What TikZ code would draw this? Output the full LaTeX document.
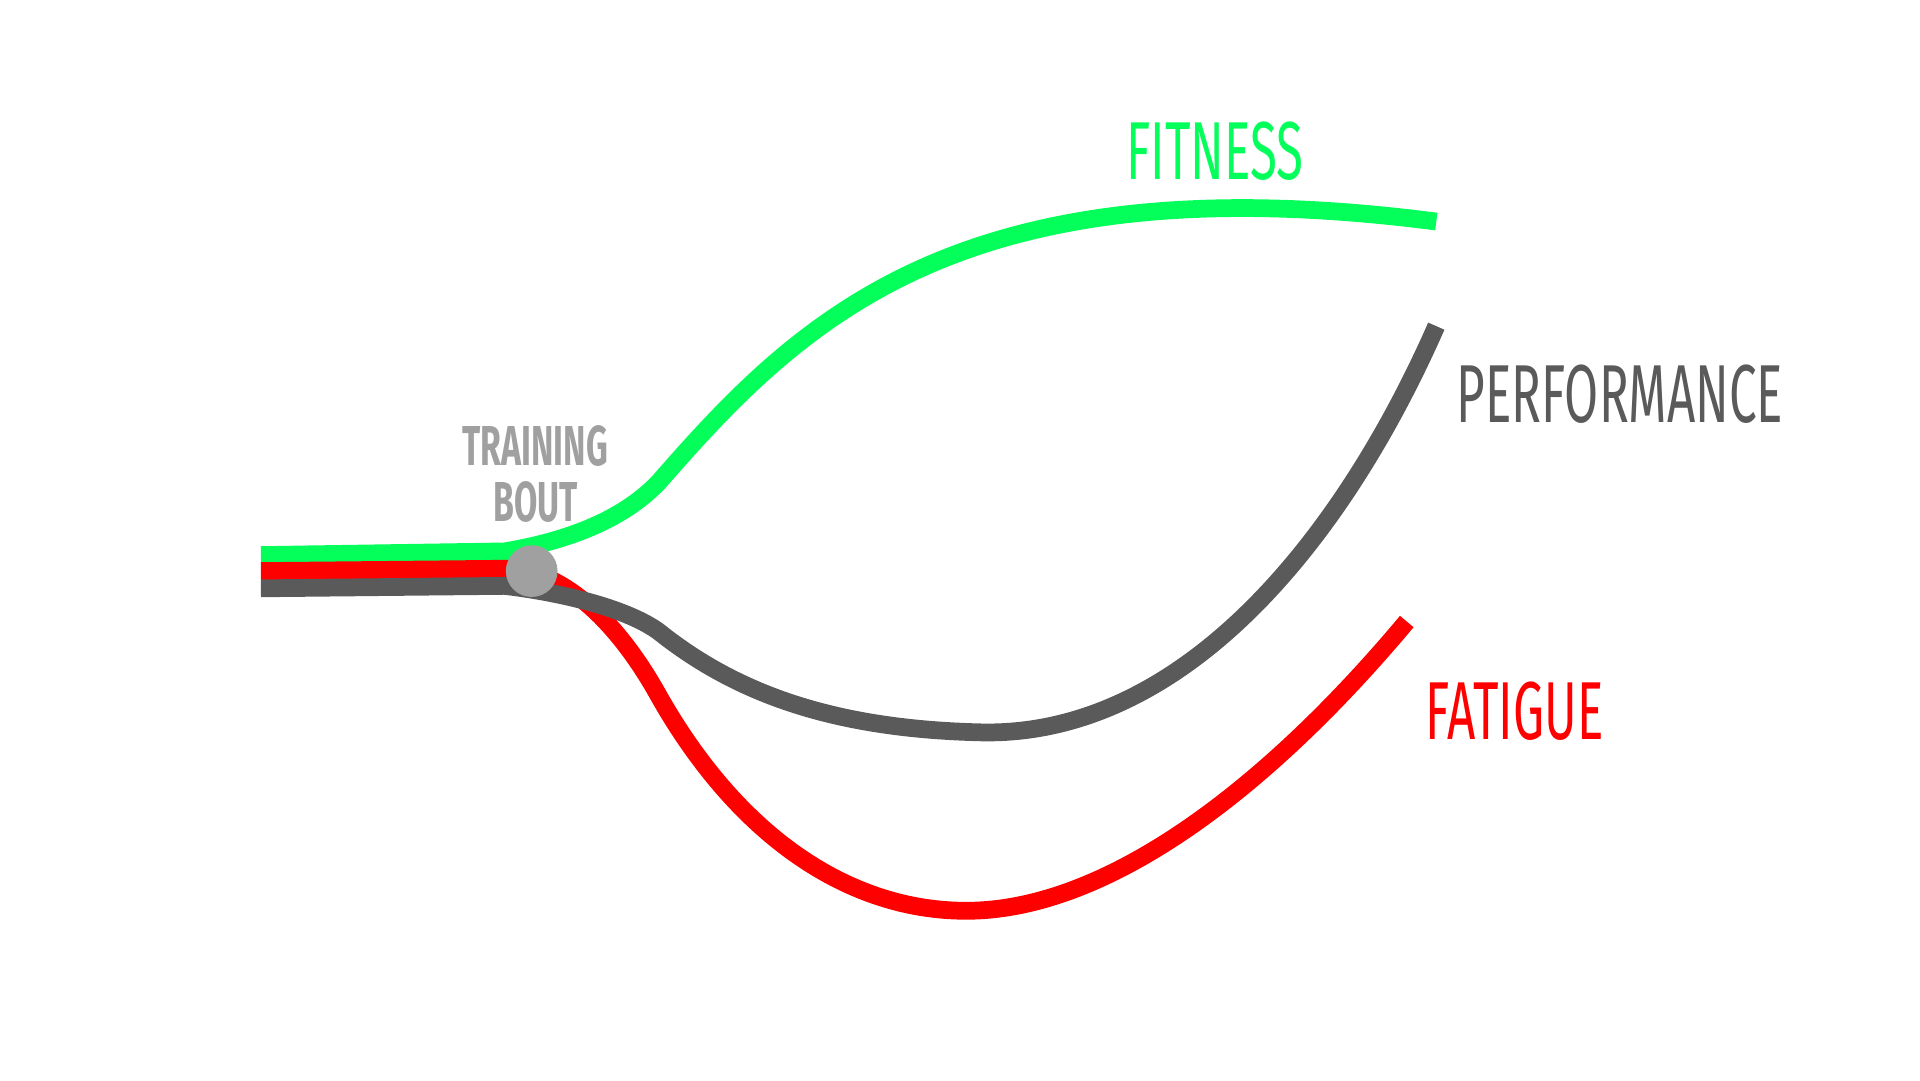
\documentclass[tikz,border=0pt]{standalone}
\usepackage{fontspec}
\setmainfont{Fira Sans}
\definecolor{fitgreen}{HTML}{05FF5A}
\definecolor{perfgray}{HTML}{5A5A5A}
\definecolor{boutgray}{HTML}{A0A0A0}
\tikzset{
  curve/.style={line width=4.1pt},
  lbl/.style={inner sep=0pt, xscale=0.6, font=\fontsize{19}{21}\selectfont},
}
\begin{document}
\begin{tikzpicture}[x=0.01cm,y=-0.01cm]
    \useasboundingbox (0,0) rectangle (1560,878);
    \coordinate (start) at (212,464);
    % curves
    \draw[curve,fitgreen] (212,451) -- (410,448) .. controls (470,438) and (510,418) .. (535,392)
        .. controls (650,260) and (780,130) .. (1167,180);
    \draw[curve,red] (start) -- (420,462) .. controls (470,470) and (510,520) .. (535,565)
        .. controls (600,680) and (690,740) .. (785,740) .. controls (900,740) and (1030,640) .. (1143,505);
    \draw[curve,perfgray] (212,478) -- (410,476) .. controls (460,482) and (510,495) .. (535,513)
        .. controls (600,565) and (680,592) .. (795,595) .. controls (960,600) and (1090,440) .. (1167,265);
    \node[circle,fill=boutgray,minimum size=0.42cm,inner sep=0pt] (bout) at (432,464) {};
    % labels
    \node[lbl,text=fitgreen] (fitness) at (987,123) {FITNESS};
    \node[lbl,text=perfgray,anchor=west] (performance) at (1183,320) {PERFORMANCE};
    \node[lbl,text=red,anchor=west] (fatigue) at (1158,578) {FATIGUE};
    \node[lbl,text=boutgray,font=\bfseries\fontsize{13}{14}\selectfont,align=center] (training) at (435,385) {TRAINING\\[-1pt]BOUT};
\end{tikzpicture}
\end{document}
